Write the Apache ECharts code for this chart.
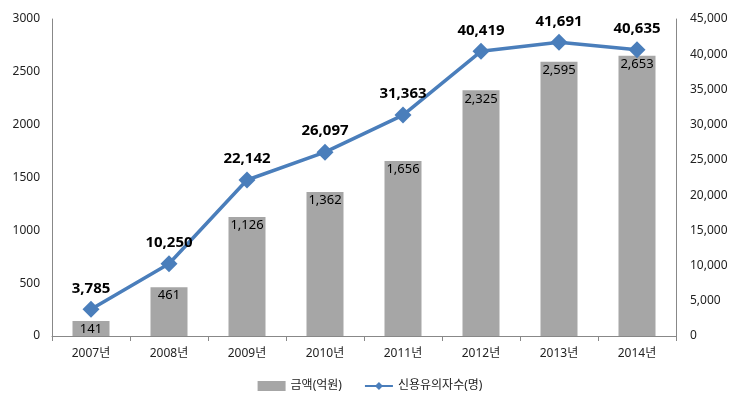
<!DOCTYPE html>
<html><head><meta charset="utf-8">
<script src="https://cdn.jsdelivr.net/npm/echarts@6/dist/echarts.min.js"></script>
<style>html,body{margin:0;padding:0;background:#fff}#c{width:740px;height:411px}</style>
</head><body><div id="c"></div>
<script>
const categories = ['2007년','2008년','2009년','2010년','2011년','2012년','2013년','2014년'];
const amountValues = [141, 461, 1126, 1362, 1656, 2325, 2595, 2653];
const personValues = [3785, 10250, 22142, 26097, 31363, 40419, 41691, 40635];
const amountName = '금액(억원)';
const personName = '신용유의자수(명)';
const FONT = "'Noto Sans', 'Noto Sans CJK KR', sans-serif";
const fmt = v => Number(v).toLocaleString('en-US');
const chart = echarts.init(document.getElementById('c'));
chart.setOption({
  animation: false,
  textStyle: { fontFamily: FONT },
  grid: { left: 52, right: 64, top: 19, bottom: 75 },
  legend: {
    bottom: 14, left: 'center', itemGap: 22, itemWidth: 28, itemHeight: 10,
    textStyle: { fontFamily: FONT, fontSize: 12, color: '#222' },
    data: [
      { name: amountName, icon: 'rect' },
      { name: personName }
    ]
  },
  xAxis: {
    type: 'category', data: categories, boundaryGap: true,
    axisLine: { lineStyle: { color: '#888' } },
    axisTick: { show: true, alignWithLabel: false, length: 5, lineStyle: { color: '#888' } },
    axisLabel: { color: '#222', fontSize: 12, margin: 12, fontFamily: FONT }
  },
  yAxis: [
    { type: 'value', min: 0, max: 3000, interval: 500,
      axisLine: { show: true, lineStyle: { color: '#888' } },
      axisTick: { show: false }, splitLine: { show: false },
      axisLabel: { color: '#222', fontSize: 12, margin: 12, fontFamily: FONT, formatter: v => String(v) } },
    { type: 'value', min: 0, max: 45000, interval: 5000,
      axisLine: { show: true, lineStyle: { color: '#888' } },
      axisTick: { show: false }, splitLine: { show: false },
      axisLabel: { color: '#222', fontSize: 12, margin: 14, fontFamily: FONT, formatter: fmt } }
  ],
  series: [
    { name: amountName, type: 'bar', data: amountValues, barWidth: 37, yAxisIndex: 0,
      itemStyle: { color: '#a6a6a6' },
      label: { show: true, position: 'insideTop', distance: 2, color: '#000', fontSize: 13, fontFamily: FONT, formatter: p => fmt(p.value) } },
    { name: personName, type: 'line', data: personValues, yAxisIndex: 1,
      symbol: 'diamond', symbolSize: 17,
      lineStyle: { color: '#4a7ebb', width: 3.5 },
      itemStyle: { color: '#4a7ebb' },
      label: { show: true, position: 'top', distance: 5, color: '#000', fontSize: 15, fontWeight: 'bold', fontFamily: FONT, formatter: p => fmt(p.value) } }
  ]
});
</script></body></html>
